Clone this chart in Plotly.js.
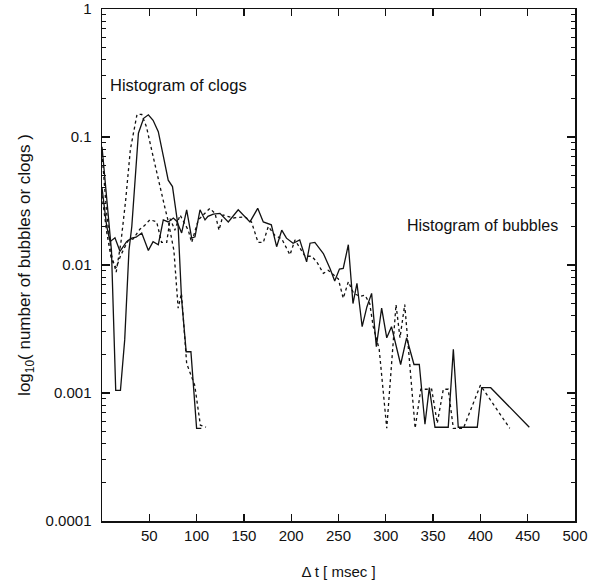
<!DOCTYPE html>
<html>
<head>
<meta charset="utf-8">
<script src="https://cdn.plot.ly/plotly-3.0.1.min.js"></script>
<style>html,body{margin:0;padding:0;background:#fff}#chart{width:600px;height:581px}</style>
</head>
<body>
<div id="chart"></div>
<script>
// Clog histograms
const clogSolidX = [0, 10, 14.5, 19.5, 24, 28.5, 31.5, 38.5, 44, 49, 54, 59.5, 65, 70, 74.5, 80.5, 84, 89, 94, 100, 105];
const clogSolidY = [0.084, 0.013, 0.00105, 0.00105, 0.0026, 0.013, 0.02, 0.107, 0.14, 0.149, 0.135, 0.11, 0.07, 0.046, 0.041, 0.02, 0.0056, 0.0021, 0.0021, 0.00053, 0.00053];
const clogDotX = [0, 5, 10, 15, 20, 25, 30, 37, 42, 47, 52.5, 59.5, 66.5, 70, 76, 80.5, 84, 89.5, 98, 104, 110];
const clogDotY = [0.075, 0.025, 0.012, 0.0088, 0.015, 0.032, 0.08, 0.15, 0.15, 0.12, 0.079, 0.046, 0.028, 0.022, 0.013, 0.0046, 0.006, 0.0017, 0.00115, 0.00056, 0.00054];

// Bubble histograms
const bubSolidX = [0, 5, 8.5, 13.7, 19, 26, 31.4, 36, 42, 49, 54, 59.5, 64.8, 70, 75.4, 79, 84.2, 89.5, 94.8, 98.3, 103.6, 108.9, 112, 117.7, 124.7, 133.5, 144, 156.4, 164.6, 170.5, 179, 184.6, 190, 195, 202, 209, 216.3, 219.9, 225, 234, 241, 246, 251, 255, 260.4, 265.3, 269.5, 275, 280, 285, 290, 295.6, 301, 306, 315.7, 322, 329.8, 335.4, 341.4, 346, 352, 366, 371.4, 376.6, 396.7, 401.4, 410.9, 451.7];
const bubSolidY = [0.04, 0.02, 0.0152, 0.0163, 0.0128, 0.0152, 0.0162, 0.0165, 0.0178, 0.013, 0.0152, 0.0144, 0.0225, 0.0217, 0.0233, 0.022, 0.0178, 0.027, 0.0162, 0.0166, 0.027, 0.0225, 0.024, 0.025, 0.0253, 0.0217, 0.027, 0.0217, 0.0277, 0.0217, 0.0206, 0.0139, 0.0187, 0.0162, 0.0148, 0.0157, 0.0106, 0.0148, 0.015, 0.0123, 0.0094, 0.0075, 0.0093, 0.0094, 0.0144, 0.005, 0.0072, 0.0033, 0.0047, 0.006, 0.0023, 0.0046, 0.0027, 0.0033, 0.00167, 0.0027, 0.00167, 0.00167, 0.00057, 0.0011, 0.00054, 0.00054, 0.0022, 0.00054, 0.00054, 0.0011, 0.0011, 0.00054];
const bubDotX = [0, 5, 10, 15, 20, 27.8, 33, 40, 45.5, 50.7, 57.8, 63, 68.4, 72, 77, 82.5, 86, 91.2, 94.8, 101.8, 107, 114, 119.5, 123.7, 128, 138.8, 151, 158, 165, 170.5, 175.8, 182.8, 190, 198.7, 204, 208, 214.6, 221.7, 227, 234, 239, 249.8, 255, 260.4, 266, 272.7, 278, 283, 286.7, 293, 301, 310.8, 315, 320, 331, 337, 348.5, 354.4, 360.8, 366, 371.4, 382, 400, 431];
const bubDotY = [0.035, 0.018, 0.011, 0.0095, 0.012, 0.0156, 0.016, 0.019, 0.0205, 0.0226, 0.0217, 0.015, 0.015, 0.023, 0.0187, 0.0246, 0.022, 0.0187, 0.015, 0.0225, 0.0246, 0.0277, 0.0253, 0.0187, 0.0246, 0.0233, 0.0238, 0.0217, 0.015, 0.015, 0.02, 0.017, 0.016, 0.012, 0.0157, 0.014, 0.0117, 0.0117, 0.0106, 0.0086, 0.0091, 0.0078, 0.0055, 0.0074, 0.006, 0.0057, 0.0058, 0.005, 0.0033, 0.0022, 0.00053, 0.0049, 0.0027, 0.0049, 0.00053, 0.00107, 0.00107, 0.00058, 0.00107, 0.00107, 0.00053, 0.00053, 0.00115, 0.00053];

const xTickVals = [50, 100, 150, 200, 250, 300, 350, 400, 450, 500];
const yTickVals = [0.0001, 0.001, 0.01, 0.1, 1];
const yTickText = ['0.0001', '0.001', '0.01', '0.1', '1'];

const FONT = 'Liberation Sans, Arial, Helvetica, sans-serif';
const solid = {color: '#111', width: 1.3, dash: 'solid'};
const dotted = {color: '#111', width: 1.3, dash: 'dot'};

const traces = [
  {x: clogSolidX, y: clogSolidY, mode: 'lines', line: solid, name: 'clogs 1'},
  {x: clogDotX, y: clogDotY, mode: 'lines', line: dotted, name: 'clogs 2'},
  {x: bubSolidX, y: bubSolidY, mode: 'lines', line: solid, name: 'bubbles 1'},
  {x: bubDotX, y: bubDotY, mode: 'lines', line: dotted, name: 'bubbles 2'}
];

const layout = {
  width: 600, height: 581,
  margin: {l: 102, r: 25, t: 9, b: 60},
  paper_bgcolor: '#fff', plot_bgcolor: '#fff',
  showlegend: false,
  font: {family: FONT, size: 15, color: '#111'},
  xaxis: {
    range: [0, 500], tickvals: xTickVals, ticks: 'inside', ticklen: 7, tickwidth: 1.3,
    tickcolor: '#111', showline: true, linecolor: '#111', linewidth: 1.5, mirror: 'allticks',
    showgrid: false, zeroline: false, tickfont: {size: 15},
    title: {text: 'Δ t [ msec ]', font: {size: 15}, standoff: 24}
  },
  yaxis: {
    type: 'log', range: [-4, 0], tickvals: yTickVals, ticktext: yTickText,
    ticks: 'inside', ticklen: 8, tickwidth: 1.3, tickcolor: '#111',
    showline: true, linecolor: '#111', linewidth: 1.5, mirror: 'allticks',
    showgrid: false, zeroline: false, tickfont: {size: 15}, ticklabelstandoff: 6,
    minor: {ticks: 'inside', ticklen: 4, tickcolor: '#111', tickwidth: 1, dtick: 'D1', showgrid: false},
    title: {text: 'log<sub>10</sub>( number of bubbles or clogs )', font: {size: 17}, standoff: 10}
  },
  annotations: [
    {x: 6, y: Math.log10(0.255), xref: 'x', yref: 'y', text: 'Histogram of clogs', showarrow: false,
     xanchor: 'left', yanchor: 'middle', font: {size: 16.5, family: FONT, color: '#111'}},
    {x: 320, y: Math.log10(0.0205), xref: 'x', yref: 'y', text: 'Histogram of bubbles', showarrow: false,
     xanchor: 'left', yanchor: 'middle', font: {size: 16, family: FONT, color: '#111'}}
  ]
};

Plotly.newPlot('chart', traces, layout, {staticPlot: true, displayModeBar: false});
</script>
</body>
</html>
